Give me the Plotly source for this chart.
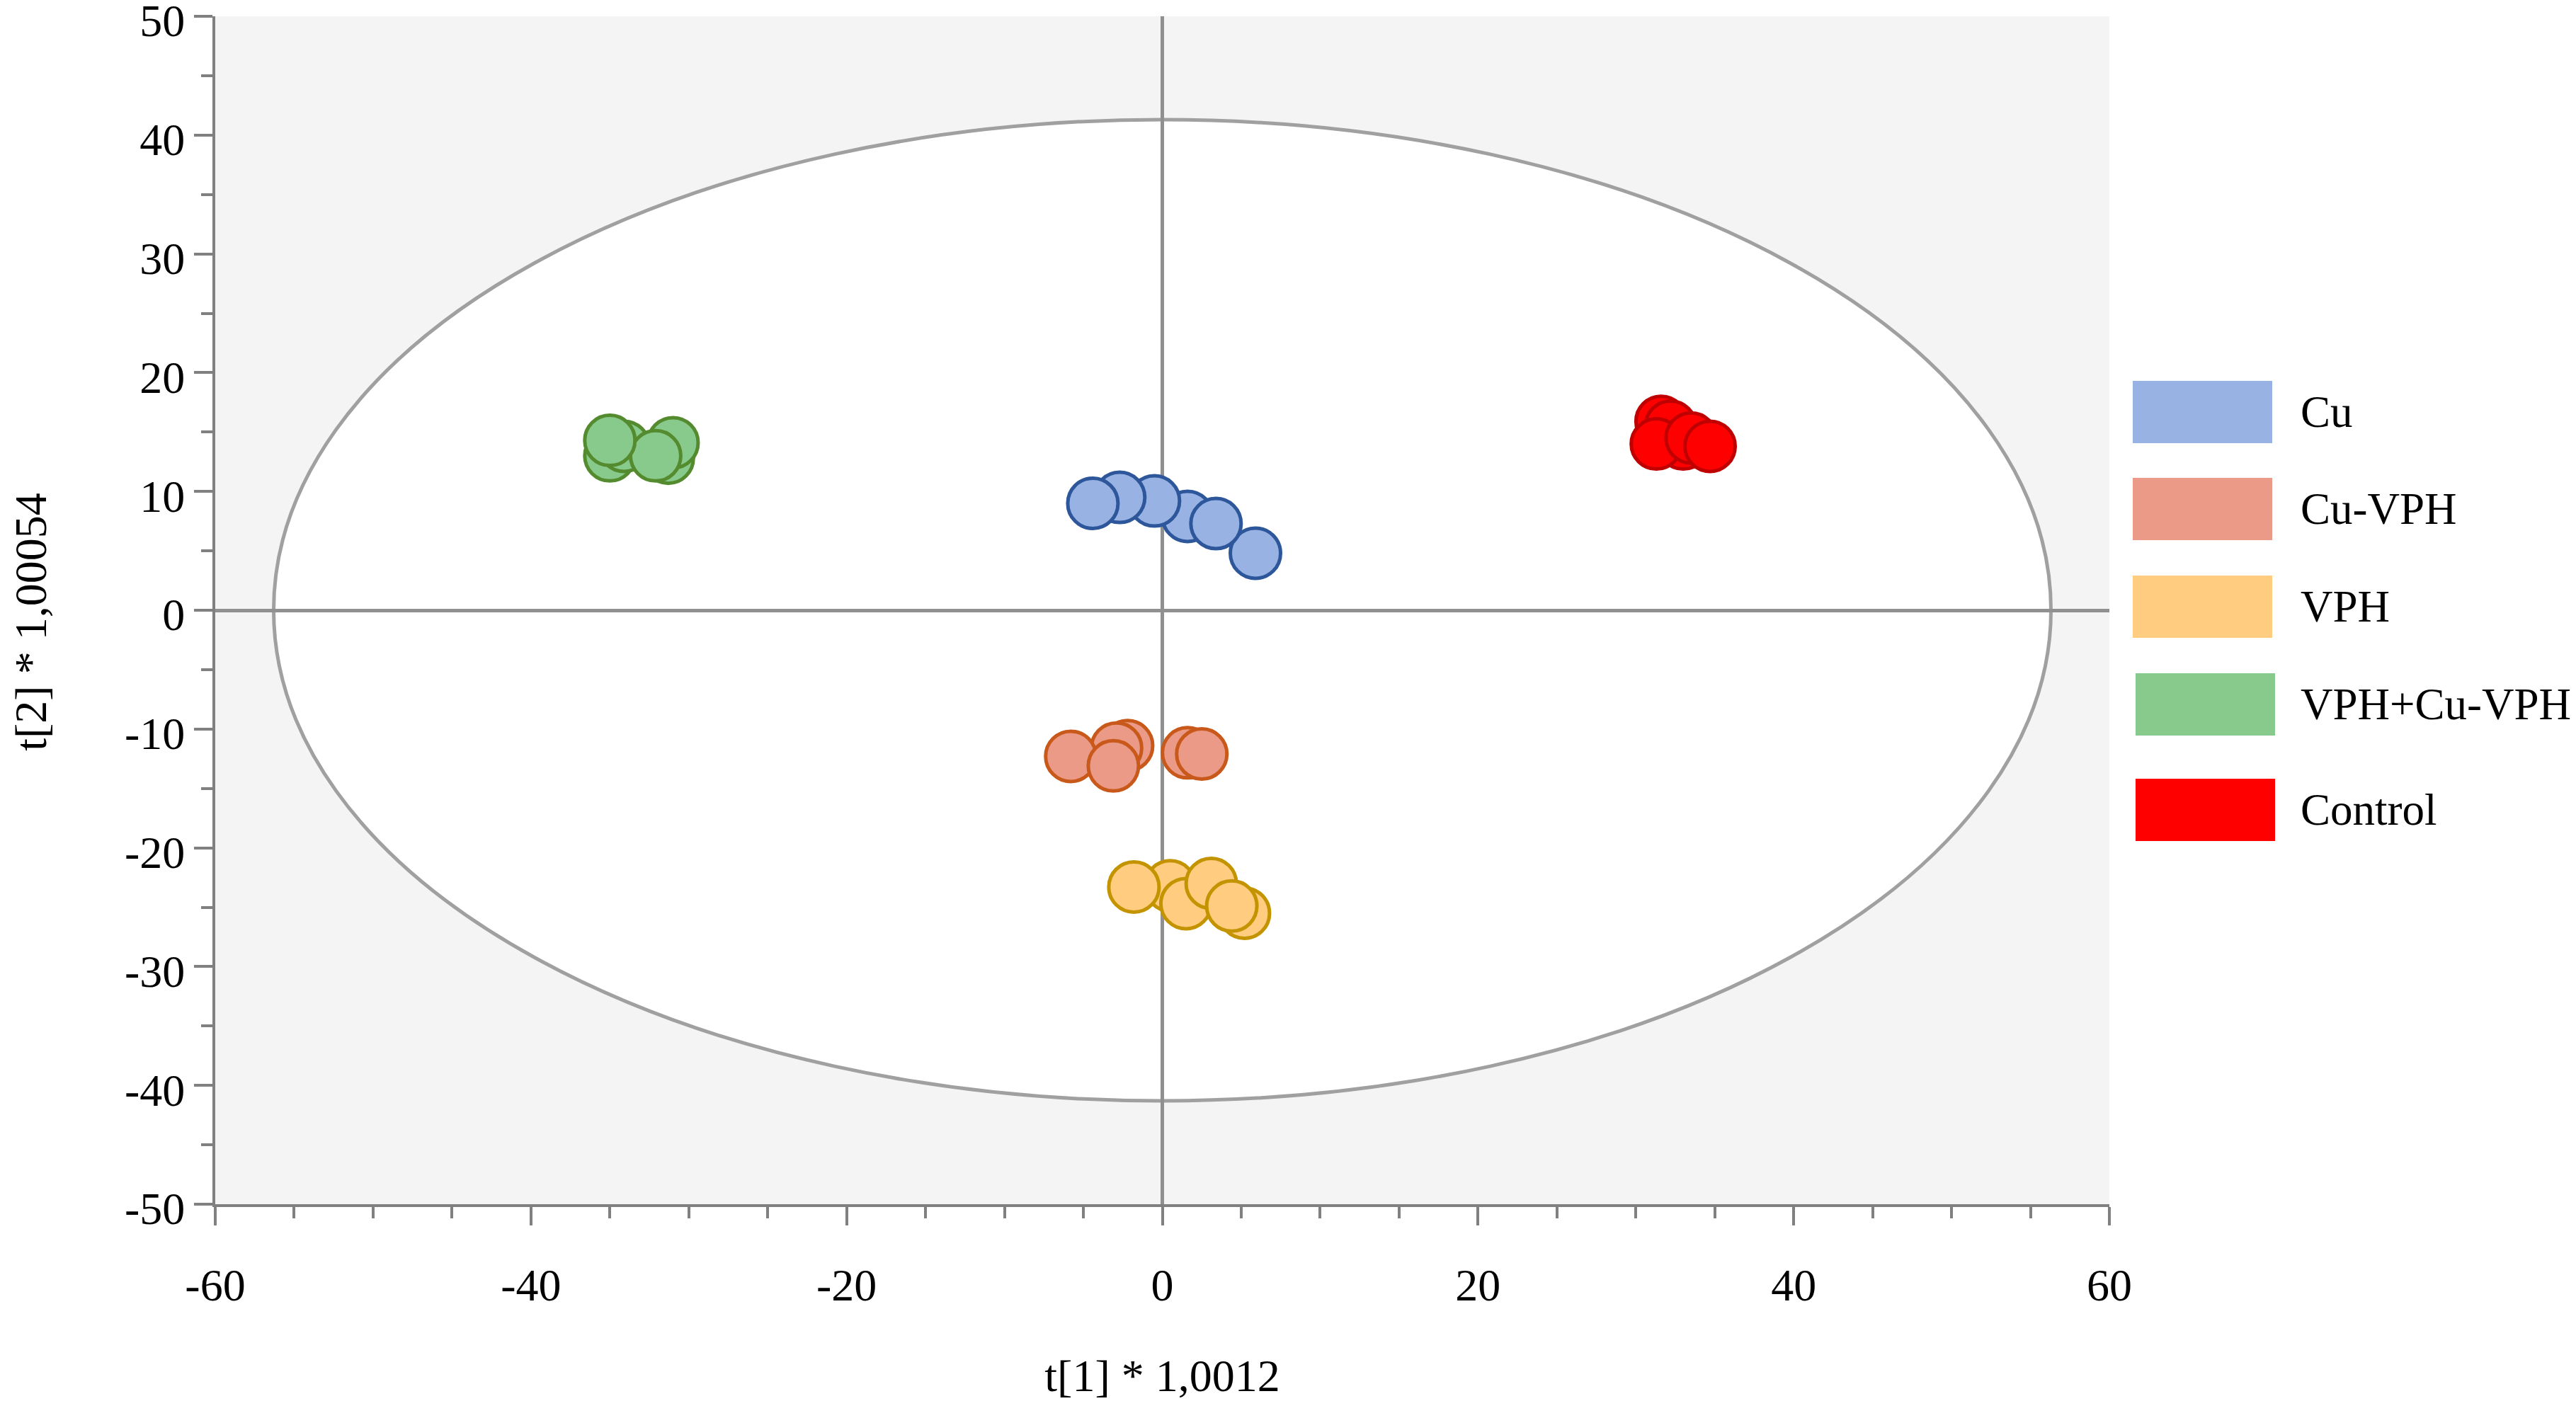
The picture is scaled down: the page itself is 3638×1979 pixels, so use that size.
import plotly.graph_objects as go

# score plot values (t[1], t[2])
groups = ['Cu', 'Cu-VPH', 'VPH', 'VPH+Cu-VPH', 'Control']

cu_x = [1.6, 5.9, 3.4, -0.5, -2.7, -4.4]
cu_y = [7.9, 4.8, 7.3, 9.2, 9.5, 9.0]

cuvph_x = [-2.2, -2.9, -5.8, -3.1, 1.6, 2.5]
cuvph_y = [-11.4, -11.6, -12.3, -13.1, -12.0, -12.1]

vph_x = [0.5, 1.5, 3.1, 5.2, 4.4, -1.8]
vph_y = [-23.2, -24.7, -23.0, -25.5, -24.9, -23.3]

mix_x = [-35.0, -34.1, -31.3, -31.0, -32.1, -35.0]
mix_y = [13.0, 13.8, 12.8, 14.1, 13.0, 14.3]

ctrl_x = [31.6, 32.2, 33.0, 31.3, 33.5, 34.7]
ctrl_y = [15.9, 15.5, 14.0, 14.0, 14.5, 13.8]

# Hotelling T2 ellipse half-axes
ell_a = 56.3
ell_b = 41.3

xticks = [-60, -40, -20, 0, 20, 40, 60]
xtick_text = ['-60', '-40', '-20', '0', '20', '40', '60']
yticks = [-50, -40, -30, -20, -10, 0, 10, 20, 30, 40, 50]
ytick_text = ['-50', '-40', '-30', '-20', '-10', '0', '10', '20', '30', '40', '50']

fills = ['#98B3E3', '#EA9A87', '#FFCC80', '#88CA8B', '#FF0000']
edges = ['#2E579B', '#C8591A', '#C39400', '#558B2F', '#C00000']
xs = [cu_x, cuvph_x, vph_x, mix_x, ctrl_x]
ys = [cu_y, cuvph_y, vph_y, mix_y, ctrl_y]

# page body has an 8px margin, so the figure is drawn from (8, 8)
off = 8
W, H = 3638 - off, 1979 - off
ml, mr, mt, mb = 304 - off, 659, 23 - off, 278
font = 'Liberation Serif'

data = []
for name, x, y, fc, ec in zip(groups, xs, ys, fills, edges):
    data.append(go.Scatter(
        x=x, y=y, mode='markers', name=name, showlegend=False,
        marker={'size': 71, 'color': fc, 'line': {'width': 5, 'color': ec}},
    ))

shapes = [dict(type='circle', xref='x', yref='y',
               x0=-ell_a, x1=ell_a, y0=-ell_b, y1=ell_b,
               fillcolor='white', line={'color': '#a0a0a0', 'width': 5},
               layer='below')]
annotations = []

# legend drawn as coloured boxes next to the plot (page pixel positions)
pw = W - ml - mr
ph = H - mt - mb
bottom_px = 1701
box_centers = [582, 719, 857, 995, 1144]
box_left = [3012, 3012, 3012, 3016, 3016]
for name, fc, cy, bx in zip(groups, fills, box_centers, box_left):
    shapes.append(dict(type='rect', xref='paper', yref='paper',
                       x0=(bx - 304) / pw, x1=(bx + 197 - 304) / pw,
                       y0=(bottom_px - cy - 44) / ph, y1=(bottom_px - cy + 44) / ph,
                       fillcolor=fc, line={'width': 0}))
    annotations.append(dict(xref='paper', yref='paper', x=(3247 - 304) / pw,
                            y=(bottom_px - cy) / ph, text=name, showarrow=False,
                            xanchor='left', yanchor='middle',
                            font={'family': font, 'size': 63, 'color': 'black'}))

# y axis title, placed by hand so it can sit close to the left edge
annotations.append(dict(xref='paper', yref='paper', x=(44 - 304) / pw, y=0.49,
                        text='t[2] * 1,00054', textangle=-90, showarrow=False,
                        xanchor='center', yanchor='middle',
                        font={'family': font, 'size': 64, 'color': 'black'}))

axis_common = dict(
    showgrid=False, showline=True, linecolor='#808080', linewidth=4,
    ticks='outside', ticklen=26, tickwidth=4, tickcolor='#808080',
    zeroline=True, zerolinecolor='#909090', zerolinewidth=5,
    tickfont={'family': font, 'size': 64, 'color': 'black'},
    minor={'dtick': 5, 'ticks': 'outside', 'ticklen': 16, 'tickwidth': 4,
           'tickcolor': '#808080'},
    ticklabeloverflow='allow',
    automargin=False,
)

layout = go.Layout(
    width=W, height=H,
    margin={'l': ml, 'r': mr, 't': mt, 'b': mb},
    paper_bgcolor='white', plot_bgcolor='#f4f4f4',
    xaxis=dict(axis_common, range=[-60, 60], tickvals=xticks, ticktext=xtick_text,
               ticklabelstandoff=29,
               title={'text': 't[1] * 1,0012', 'standoff': 86,
                      'font': {'family': font, 'size': 64, 'color': 'black'}}),
    yaxis=dict(axis_common, range=[-50, 50], tickvals=yticks, ticktext=ytick_text,
               ticklabelshift=6),
    shapes=shapes, annotations=annotations,
    showlegend=False,
)

fig = go.Figure(data=data, layout=layout)
fig.write_html('out.html')
